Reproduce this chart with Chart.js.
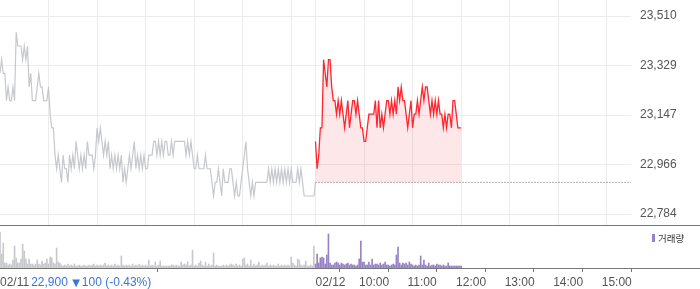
<!DOCTYPE html>
<html>
<head>
<meta charset="utf-8">
<script src="https://cdn.jsdelivr.net/npm/chart.js@4.4.1/dist/chart.umd.min.js"></script>
<style>
  body { margin: 0; background: #fff; }
  canvas { display: block; }
</style>
</head>
<body>
<canvas id="price" width="700" height="226"></canvas>
<canvas id="volume" width="700" height="63"></canvas>
<script>
// minutes since 09:00 on 02/11; 02/12 starts at 390. one value every 2 minutes
const day1Price = [
  23300,23350,23300,23300,23200,23250,23200,23200,23250,23200,
  23450,23400,23400,23400,23350,23400,23350,23400,23250,23300,
  23200,23200,23200,23250,23300,23250,23250,23200,23200,23200,
  23250,23150,23100,23100,23000,22950,23000,22950,22900,23000,
  22950,22950,22900,23000,22950,23000,22950,23050,23000,22950,
  23000,22950,23000,22950,23050,23000,23000,23000,22950,23000,
  23100,23050,23100,23050,23000,23050,23000,23050,22950,23000,
  22950,23000,22950,23000,22950,23000,22900,22950,22900,22950,
  23000,22950,23000,23050,22950,23000,22950,23000,22950,23000,
  22950,22950,23000,23000,23000,23050,23050,23000,23050,23000,
  23050,23000,23050,23050,23000,23000,23050,23000,23050,23050,
  23050,23050,23050,23050,23050,23000,23050,23000,23050,23000,
  22950,22950,23000,22950,22950,22950,22950,23000,22950,22950,
  22950,22900,22850,22900,22900,22950,22900,22850,22950,22900,
  22900,22900,22950,22950,22900,22850,22900,22850,22850,22900,
  22950,23000,23050,22950,22900,22850,22900,22850,22900,22900,
  22900,22900,22900,22900,22900,22900,22950,22900,22950,22900,
  22950,22900,22950,22900,22950,22900,22950,22900,22950,22900,
  22950,22900,22900,22900,22950,22900,22950,22900,22850,22850,
  22850,22850,22850,22850,22850,22900
];
const day2Price = [
  23050,22950,23000,23100,23100,23350,23300,23250,23350,23350,
  23250,23200,23200,23150,23200,23150,23200,23150,23100,23150,
  23200,23100,23150,23200,23200,23150,23200,23150,23100,23100,
  23050,23050,23100,23150,23150,23150,23150,23200,23100,23200,
  23100,23150,23100,23150,23200,23200,23150,23200,23150,23200,
  23150,23250,23200,23250,23200,23200,23150,23100,23150,23200,
  23100,23150,23150,23200,23150,23200,23250,23200,23250,23250,
  23200,23150,23200,23150,23200,23150,23200,23150,23150,23100,
  23150,23100,23150,23150,23100,23200,23200,23150,23100,23100,
  23100
];
// volume, thousand shares
const day1Vol = [
  36,14,25,5,5,3,4,3,8,22,
  10,5,5,9,24,17,9,4,9,4,
  4,3,4,8,4,3,7,4,5,9,
  4,11,10,5,4,20,6,5,3,2,
  3,2,4,2,3,2,4,2,2,3,
  2,2,3,2,2,3,2,3,4,2,
  3,2,3,2,3,5,2,3,2,3,
  2,4,2,3,2,12,3,2,3,2,
  3,2,4,2,3,2,4,2,3,2,
  3,2,8,2,3,2,6,2,3,7,
  2,2,2,2,2,2,3,3,2,3,
  2,2,6,3,4,3,6,2,3,18,
  2,3,2,5,7,3,2,6,2,4,
  2,3,15,2,3,2,2,2,3,2,
  3,2,3,4,3,2,4,2,3,2,
  9,10,3,4,2,8,2,4,2,3,
  6,2,3,2,3,5,2,3,2,3,
  2,2,4,2,3,2,3,2,3,2,
  11,5,3,2,9,8,3,2,3,7,
  2,2,3,2,22
];
const day2Vol = [
  4,14,5,10,11,10,4,13,34,5,
  3,3,5,6,5,3,5,4,3,4,
  5,3,4,3,3,2,3,9,27,6,
  6,3,3,6,3,9,3,4,4,3,
  5,3,4,6,3,3,2,3,4,3,
  13,21,5,3,5,4,5,3,6,4,
  3,2,3,2,3,12,3,8,3,2,
  5,2,3,3,2,4,3,3,2,3,
  2,2,5,2,2,2,2,2,2,2,
  2
];
const prevClose = 22900;
const day2Start = 390;
const totalMinutes = 780;
const step = 2;

const gridMinutes = [60, 120, 180, 240, 300, 360, 390, 450, 510, 570, 630, 690, 750];
const tickMinutes = [0, 390, 450, 510, 570, 630, 690, 750];
const tickLabels = ['02/11', '02/12', '10:00', '11:00', '12:00', '13:00', '14:00', '15:00'];
const yTickValues = [22784, 22965.5, 23147, 23328.5, 23510];
const yTickLabels = ['22,784', '22,966', '23,147', '23,329', '23,510'];
const closeText = '22,900';
const changeText = '100 (-0.43%)';
const volLabel = '거래량';

const FONT = '"Liberation Sans", Arial, sans-serif';

const d1 = day1Price.map((v, i) => ({x: i * step, y: v}));
const d2 = day2Price.map((v, i) => ({x: day2Start + i * step, y: v}));
const v1 = day1Vol.map((v, i) => ({x: i * step, y: v}));
const v2 = day2Vol.map((v, i) => ({x: day2Start + i * step, y: v}));

const borderLine = {
  id: 'borderLine',
  afterDraw(chart) {
    const ctx = chart.ctx;
    const y = chart.chartArea.bottom + 0.5;
    ctx.save();
    ctx.strokeStyle = '#777';
    ctx.lineWidth = 1;
    ctx.beginPath();
    ctx.moveTo(0, y);
    ctx.lineTo(chart.width, y);
    ctx.stroke();
    ctx.restore();
  }
};

new Chart(document.getElementById('price'), {
  type: 'line',
  data: {
    datasets: [
      { data: d1, borderColor: '#c6c8cc', borderWidth: 1.2, pointRadius: 0, fill: false },
      { data: d2, borderColor: '#ff2630', borderWidth: 1.3, pointRadius: 0,
        fill: {value: prevClose}, backgroundColor: 'rgba(244, 67, 80, 0.13)' },
      { data: [{x: day2Start, y: prevClose}, {x: totalMinutes, y: prevClose}],
        borderColor: '#666', borderWidth: 1, borderDash: [1, 2], pointRadius: 0, fill: false }
    ]
  },
  options: {
    responsive: false,
    animation: false,
    layout: { padding: { bottom: 1 } },
    plugins: { legend: { display: false }, tooltip: { enabled: false } },
    scales: {
      x: {
        type: 'linear', min: 0, max: totalMinutes,
        afterBuildTicks: s => { s.ticks = gridMinutes.map(v => ({value: v})); },
        afterFit: s => { s.height = 0; s.paddingLeft = 0; s.paddingRight = 0; },
        grid: { color: '#ececec', drawTicks: false },
        border: { display: false },
        ticks: { display: false }
      },
      y: {
        position: 'right', min: 22743.7, max: 23568.7,
        afterBuildTicks: s => { s.ticks = yTickValues.map(v => ({value: v})); },
        afterFit: s => { s.width = 69; s.paddingTop = 0; s.paddingBottom = 0; },
        grid: { color: '#ececec', drawTicks: false },
        border: { display: false },
        ticks: {
          padding: 9, color: '#555', font: { family: FONT, size: 12 },
          callback: (v) => yTickLabels[yTickValues.indexOf(v)]
        }
      }
    }
  },
  plugins: [borderLine]
});

const volumeText = {
  id: 'volumeText',
  afterDraw(chart) {
    const ctx = chart.ctx, x = chart.scales.x, area = chart.chartArea;
    const ty = area.bottom + 15;
    ctx.save();
    ctx.textBaseline = 'middle';
    ctx.font = '12px ' + FONT;
    ctx.fillStyle = '#555';
    tickMinutes.forEach((m, i) => {
      const lab = tickLabels[i];
      const dx = lab.indexOf('/') > 0 ? 0 : -5;
      ctx.fillText(lab, x.getPixelForValue(m) + dx, ty);
    });
    // day-1 close next to the first date
    let cx = x.getPixelForValue(tickMinutes[0]) + ctx.measureText(tickLabels[0]).width + 2;
    ctx.fillStyle = '#3a76d6';
    ctx.fillText(closeText, cx, ty);
    cx += ctx.measureText(closeText + ' ').width + 1;
    ctx.font = '10px "DejaVu Sans", sans-serif';
    ctx.fillText('▼', cx, ty + 0.5);
    cx += ctx.measureText('▼').width + 2;
    ctx.font = '12px ' + FONT;
    ctx.fillText(changeText, cx, ty);
    // legend
    ctx.fillStyle = '#9683c6';
    ctx.fillRect(area.right + 21, area.top + 8, 3, 8);
    ctx.fillStyle = '#333';
    ctx.font = '9.5px "Noto Sans CJK KR", sans-serif';
    ctx.fillText(volLabel, area.right + 27, area.top + 12);
    ctx.restore();
  }
};

new Chart(document.getElementById('volume'), {
  type: 'bar',
  data: {
    datasets: [
      { data: v1, backgroundColor: '#c8c9cd', barThickness: 1, grouped: false },
      { data: v2, backgroundColor: '#9683c6', barThickness: 1, grouped: false }
    ]
  },
  options: {
    responsive: false,
    animation: false,
    layout: { padding: { right: 69 } },
    plugins: { legend: { display: false }, tooltip: { enabled: false } },
    scales: {
      x: {
        type: 'linear', min: 0, max: totalMinutes, offset: false,
        afterBuildTicks: s => { s.ticks = tickMinutes.map(v => ({value: v})); },
        afterFit: s => { s.height = 21; s.paddingLeft = 0; s.paddingRight = 0; },
        grid: { drawOnChartArea: false, drawTicks: true, tickLength: 4, color: '#777' },
        border: { display: false },
        ticks: { display: false }
      },
      y: { display: false, min: 0, max: 42 }
    }
  },
  plugins: [borderLine, volumeText]
});
</script>
</body>
</html>
